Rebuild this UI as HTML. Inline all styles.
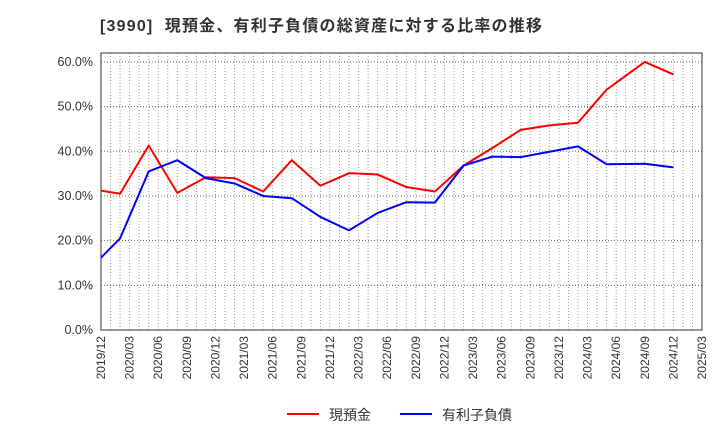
<!DOCTYPE html>
<html><head><meta charset="utf-8"><style>
body{margin:0;background:#fff;font-family:"Liberation Sans","Noto Sans CJK JP",sans-serif;}
</style></head><body>
<svg id="chart" width="720" height="440" xmlns="http://www.w3.org/2000/svg" font-family="Liberation Sans, Noto Sans CJK JP, sans-serif">
<text x="100" y="31" font-size="16" font-weight="bold" fill="#333" letter-spacing="1.2" xml:space="preserve">[3990]  現預金、有利子負債の総資産に対する比率の推移</text>
<g id="grid"></g><g id="axes"></g><g id="series"></g>
<g>
<line x1="287" y1="414" x2="319" y2="414" stroke="#f00" stroke-width="2"/>
<text x="329" y="420" font-size="14" fill="#333">現預金</text>
<line x1="400" y1="414" x2="432" y2="414" stroke="#00f" stroke-width="2"/>
<text x="442" y="420" font-size="14" fill="#333">有利子負債</text>
</g>
</svg>
<script>
const tickLabels=["2019/12","2020/03","2020/06","2020/09","2020/12","2021/03","2021/06","2021/09","2021/12","2022/03","2022/06","2022/09","2022/12","2023/03","2023/06","2023/09","2023/12","2024/03","2024/06","2024/09","2024/12","2025/03"];
const monthOffsets=[0,2,5,8,11,14,17,20,23,26,29,32,35,38,41,44,47,50,53,57,60];
const cashRatio=[31.2,30.5,41.3,30.7,34.2,34.0,31.0,38.0,32.3,35.1,34.8,32.0,31.0,36.8,40.7,44.8,45.8,46.4,53.8,60.0,57.2];
const debtRatio=[16.2,20.5,35.5,38.0,34.0,32.8,30.0,29.5,25.3,22.3,26.2,28.6,28.5,36.8,38.8,38.7,39.9,41.1,37.1,37.2,36.4];
const yTicks=[0,10,20,30,40,50,60];
const X0=101,X1=702,Y0=330,Y1=53,MONTHS=63,YMAX=62;
const NS="http://www.w3.org/2000/svg";
const xs=m=>X0+(X1-X0)*m/MONTHS;
const ys=v=>Y0-(Y0-Y1)*v/YMAX;
function mk(tag,attrs,parent){const e=document.createElementNS(NS,tag);for(const k in attrs)e.setAttribute(k,attrs[k]);parent.appendChild(e);return e;}
const grid=document.getElementById('grid'),axes=document.getElementById('axes'),ser=document.getElementById('series');
for(let m=1;m<MONTHS;m++){const l=mk('line',{x1:xs(m),x2:xs(m),y1:Y1,y2:Y0,stroke:'#999','stroke-dasharray':'1,2','stroke-width':1},grid);

}
yTicks.forEach(v=>{if(v>0){const l=mk('line',{x1:X0,x2:X1,y1:ys(v),y2:ys(v),stroke:'#666','stroke-dasharray':'1,2','stroke-width':1},grid);

}
const t=mk('text',{x:X0-8,y:ys(v)+4,'font-size':12.5,fill:'#333','text-anchor':'end'},axes);t.textContent=v.toFixed(1)+'%';

});
tickLabels.forEach((lab,i)=>{const x=xs(i*3);const t=mk('text',{x:x+4,y:Y0+6,'font-size':12,fill:'#333','text-anchor':'end',transform:`rotate(-90 ${x+4} ${Y0+6})`},axes);t.textContent=lab;

});
const fr=mk('rect',{x:X0,y:Y1,width:X1-X0,height:Y0-Y1,fill:'none',stroke:'#333','stroke-width':1},axes);


function line(vals,color,name){const pts=vals.map((v,i)=>xs(monthOffsets[i])+','+ys(v)).join(' ');
const p=mk('polyline',{points:pts,fill:'none',stroke:color,'stroke-width':2,'stroke-linejoin':'round'},ser);

}
line(cashRatio,'#f00','cash-ratio-line');
line(debtRatio,'#00f','debt-ratio-line');
</script>
</body></html>
